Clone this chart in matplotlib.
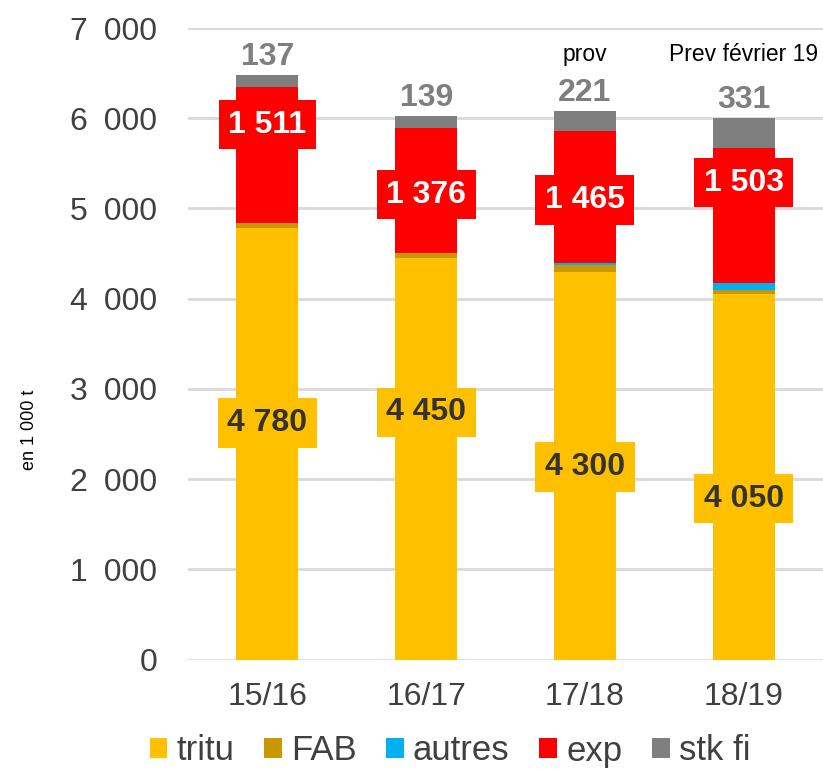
import matplotlib
matplotlib.use('Agg')
import matplotlib.pyplot as plt
import numpy as np

plt.rcParams['font.family'] = ['Liberation Sans', 'DejaVu Sans']

# Campagnes et bilan (en 1 000 t)
campagnes = ['15/16', '16/17', '17/18', '18/19']
tritu = [4780, 4450, 4300, 4050]
fab = [55, 60, 70, 50]
autres = [0, 0, 25, 70]
exp = [1511, 1376, 1465, 1503]
stk_fi = [137, 139, 221, 331]
notes = ['', '', 'prov', 'Prev février 19']

# where the labels of tritu and exp sit along each bar
tritu_label_y = [2622, 2738, 2134, 1783]
exp_label_y = [5926, 5150, 5094, 5283]

colors = {'tritu': '#FFC000', 'FAB': '#C99800', 'autres': '#00B0F0',
          'exp': '#FF0000', 'stk fi': '#7F7F7F'}


def fmt(v, sep=' '):
    return f'{v:,}'.replace(',', sep)


fig = plt.figure(figsize=(8.23, 7.71), dpi=100)
ax = fig.add_axes([188 / 823, 111.5 / 771, 635 / 823, 631.5 / 771])

x = np.arange(len(campagnes))
width = 0.39
bottom = np.zeros(len(campagnes))
series = [('tritu', tritu), ('FAB', fab), ('autres', autres), ('exp', exp), ('stk fi', stk_fi)]
for name, vals in series:
    ax.bar(x, vals, width, bottom=bottom, color=colors[name], label=name, zorder=2)
    bottom = bottom + np.array(vals)

ax.set_xlim(-0.5, 3.5)
ax.set_ylim(0, 7000)
ax.set_yticks(range(0, 7001, 1000))
ax.set_yticklabels([fmt(v, '\u2002') for v in range(0, 7001, 1000)])
ax.set_xticks(x)
ax.set_xticklabels(campagnes)
ax.tick_params(axis='both', length=0, labelsize=23, colors='#404040')
ax.tick_params(axis='y', pad=22)
ax.tick_params(axis='x', pad=16)
ax.grid(axis='y', color='#D9D9D9', linewidth=2, zorder=0)
for s in ax.spines.values():
    s.set_visible(False)

for i in range(len(campagnes)):
    ax.text(x[i], tritu_label_y[i], fmt(tritu[i]), ha='center', va='center',
            fontsize=23, fontweight='bold', color='#333333', zorder=4,
            bbox=dict(boxstyle='square,pad=0.3', fc=colors['tritu'], ec='none'))
    ax.text(x[i], exp_label_y[i], fmt(exp[i]), ha='center', va='center',
            fontsize=23, fontweight='bold', color='white', zorder=4,
            bbox=dict(boxstyle='square,pad=0.3', fc=colors['exp'], ec='none'))
    ax.annotate(fmt(stk_fi[i]), (x[i], bottom[i]), xytext=(0, 7),
                textcoords='offset points', ha='center', va='baseline',
                fontsize=23, fontweight='bold', color='#7F7F7F', zorder=4)
    if notes[i]:
        ax.text(x[i], 6635, notes[i], ha='center', va='baseline',
                fontsize=16.5, color='black', zorder=4)

fig.text(30 / 823, 1 - 430 / 771, 'en 1 000 t', rotation=90, ha='center', va='center',
         fontsize=13, color='black')

fig.legend(loc='center', bbox_to_anchor=(450 / 823, 20 / 771), ncol=5, frameon=False,
           fontsize=25, handlelength=0.51, handleheight=0.48, handletextpad=0.26,
           columnspacing=0.86, labelcolor='#404040', borderaxespad=0)

fig.savefig('out.png', dpi=100)
